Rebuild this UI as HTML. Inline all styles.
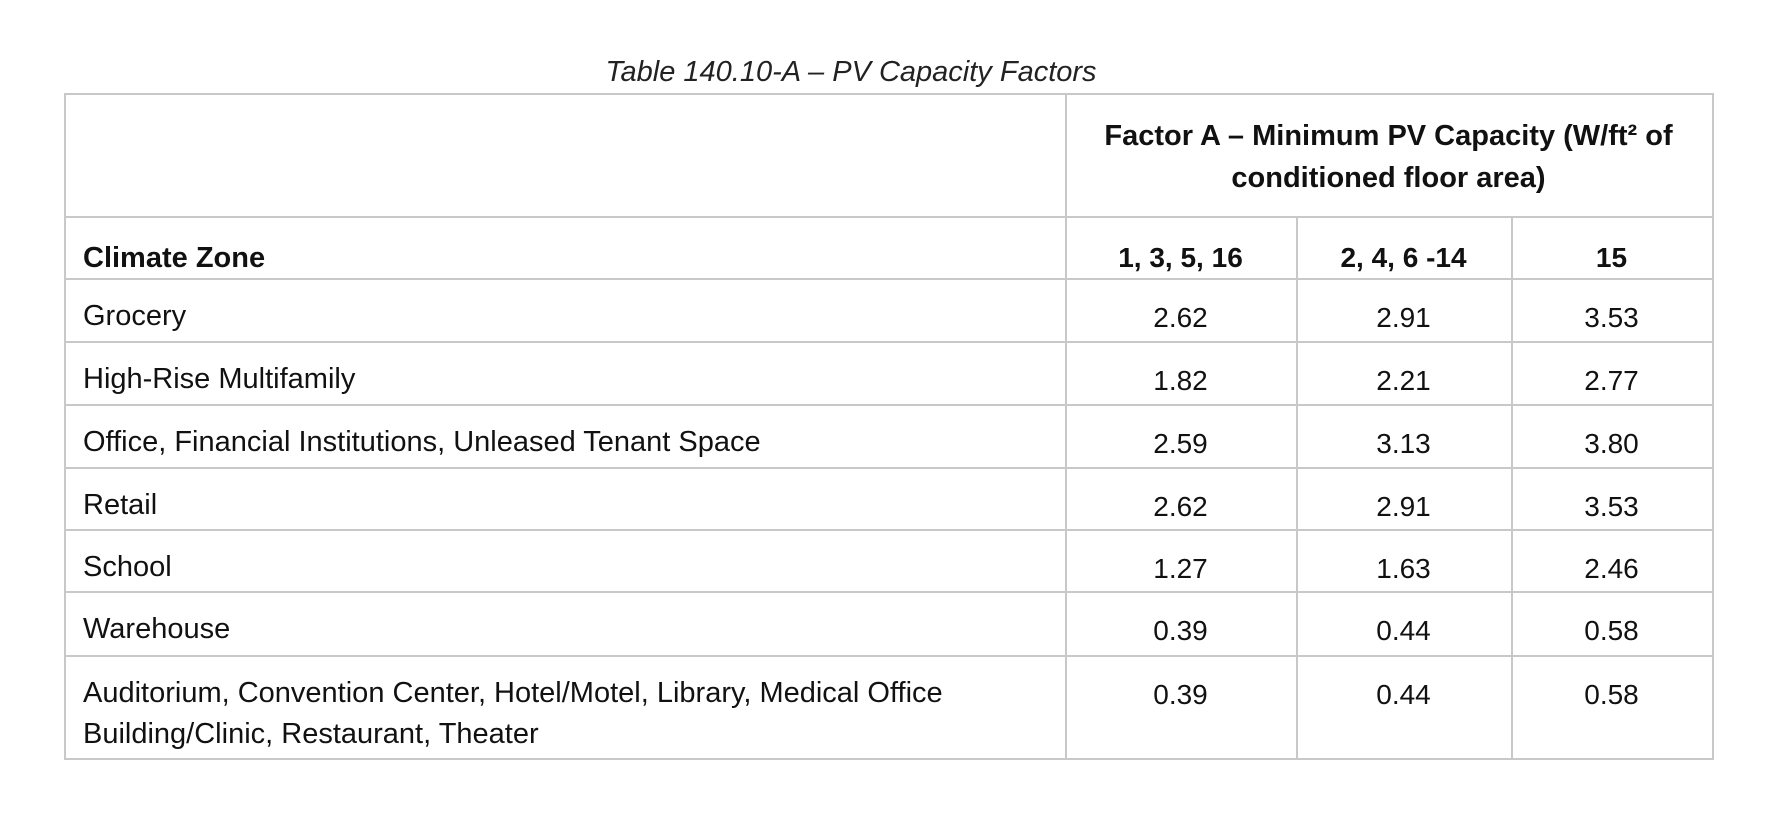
<!DOCTYPE html>
<html><head><meta charset="utf-8">
<style>
html,body{margin:0;padding:0;background:#fff;width:1789px;height:827px;overflow:hidden}
body{position:relative;font-family:"Liberation Sans",sans-serif;color:#111}
.t{position:absolute;white-space:nowrap}
.hl{position:absolute;height:2px;background:#c8c8c8}
.vl{position:absolute;width:2px;background:#c8c8c8}
.c{font-size:28px;text-align:center;transform:translateX(-50%)}
.l{font-size:29px;left:83px}
</style></head><body>
<div class="t" style="left:851px;top:56px;transform:translateX(-50%);font-size:29px;font-style:italic;color:#222">Table 140.10-A – PV Capacity Factors</div>
<div id="tbl"></div>
<script>
const rowLabels=["Grocery","High-Rise Multifamily","Office, Financial Institutions, Unleased Tenant Space","Retail","School","Warehouse","Auditorium, Convention Center, Hotel/Motel, Library, Medical Office|Building/Clinic, Restaurant, Theater"];
const zoneHeaders=["1, 3, 5, 16","2, 4, 6 -14","15"];
const zoneA=[2.62,1.82,2.59,2.62,1.27,0.39,0.39];
const zoneB=[2.91,2.21,3.13,2.91,1.63,0.44,0.44];
const zoneC=[3.53,2.77,3.80,3.53,2.46,0.58,0.58];
const tbl=document.getElementById('tbl');
const L=64,R=1712,T=93,B=758;
const colX=[1065,1296,1511];
const rowY=[216,278,341,404,467,529,591,655];
function add(cls,style,text){const d=document.createElement('div');d.className=cls;d.style.cssText=style;if(text!==undefined)d.textContent=text;tbl.appendChild(d);return d;}
let e;
e=add('hl',`left:${L}px;top:${T}px;width:${R-L+2}px`);


e=add('hl',`left:${L}px;top:${B}px;width:${R-L+2}px`);


e=add('vl',`left:${L}px;top:${T}px;height:${B-T}px`);


e=add('vl',`left:${R}px;top:${T}px;height:${B-T}px`);


rowY.forEach((y,i)=>{
 e=add('hl',`left:${L}px;top:${y}px;width:${R-L}px`);
 
 
});
e=add('vl',`left:${colX[0]}px;top:${T}px;height:${B-T}px`);


[colX[1],colX[2]].forEach(x=>{
 e=add('vl',`left:${x}px;top:${rowY[0]}px;height:${B-rowY[0]}px`);
 
 
});
e=add('t',`left:${(colX[0]+R)/2}px;top:115px;transform:translateX(-50%);font-size:29px;font-weight:bold;text-align:center;line-height:42px`);
e.innerHTML='Factor A – Minimum PV Capacity (W/ft² of<br>conditioned floor area)';


e=add('t l',`top:242px;font-weight:bold`,'Climate Zone');


const centers=[(colX[0]+colX[1])/2,(colX[1]+colX[2])/2,(colX[2]+R)/2];
zoneHeaders.forEach((h,j)=>{
 e=add('t c',`left:${centers[j]}px;top:242px;font-weight:bold`,h);
 
 
});
const series=[zoneA,zoneB,zoneC];
rowLabels.forEach((lab,i)=>{
 const top=rowY[i+1]+26;
 e=add('t l',`line-height:41px`);
 e.innerHTML=lab.split('|').join('<br>');
 e.style.top=(top-8)+'px';
 
 
 series.forEach((s,j)=>{
  e=add('t c',`left:${centers[j]}px;top:${top-2}px`,s[i].toFixed(2));
  
  
 });
});
</script>
</body></html>
